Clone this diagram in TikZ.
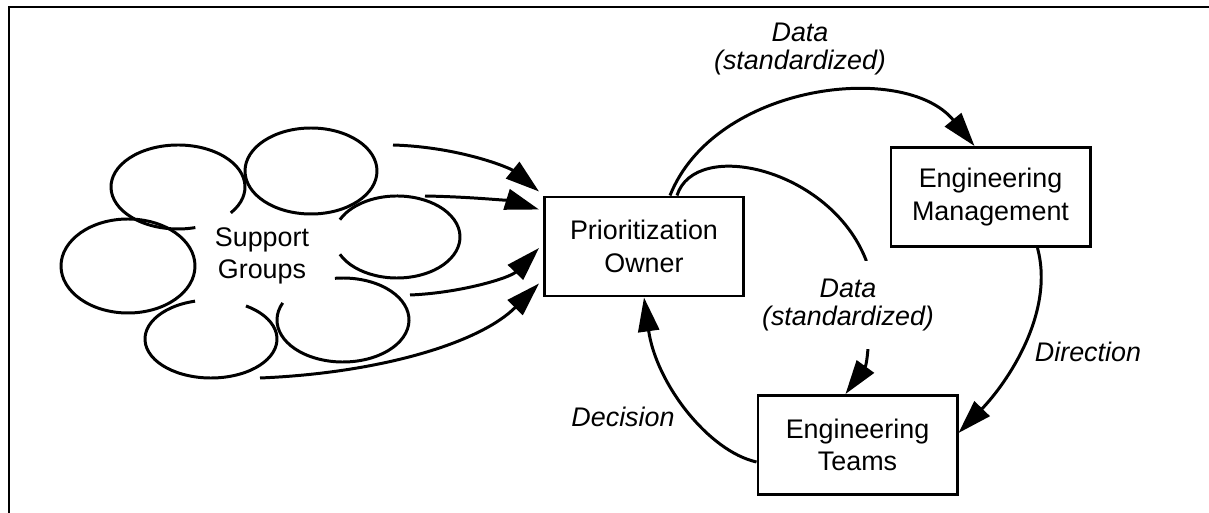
\documentclass[tikz,border=0pt]{standalone}
\usepackage{fontspec}
\setmainfont{Liberation Sans}
\usetikzlibrary{arrows.meta, calc}

\begin{document}
\begin{tikzpicture}[x=0.2mm, y=0.2mm, >={Triangle[length=6.8mm, width=4.2mm]},
  line width=1.7pt, font=\fontsize{15.3}{18.5}\selectfont,
  box/.style={draw, minimum width=39.8mm, minimum height=19.8mm, align=center, inner sep=0pt},
  lbl/.style={align=center, font=\fontsize{15.3}{16}\selectfont\itshape}]
  \useasboundingbox (0,0) rectangle (1209,513);

  % Frame
  \draw[line width=1.1pt] (9,0) -- (9,506) -- (1209,506);

  % Cloud of support groups (arcs left open towards the text)
  \foreach \cx/\cy/\rx/\ry/\a/\b in {178/326/67/42/-38/285, 311/342/66/43/0/360,
      397/276/63/41/-155/155, 128/247/67/47/0/360, 211/174/66/39/104/418, 343/193/66/42/156/457}
    \draw ({\cx+\rx*cos(\a)},{\cy+\ry*sin(\a)}) arc[start angle=\a, end angle=\b, x radius=\rx, y radius=\ry];
  \node[align=center] (sg) at (262,257) {Support\\Groups};

  % Boxes
  \node[box] (po) at (644,266.5) {Prioritization\\Owner};
  \node[box] (em) at (990.5,316) {Engineering\\Management};
  \node[box] (et) at (857.5,68) {Engineering\\Teams};

  % Inputs from the cloud
  \coordinate (s1) at (393,368);
  \coordinate (s2) at (425,317);
  \coordinate (s3) at (410,218);
  \coordinate (s4) at (260,135);
  \draw[->] (s1) .. controls (460,366) and (510,345) .. ($(po.north west)+(-4,4)$);
  \draw[->] (s2) .. controls (480,316) and (515,311) .. ($(po.west)+(-4,37)$);
  \draw[->] (s3) .. controls (460,220) and (510,235) .. ($(po.west)+(-4,-1.5)$);
  \draw[->] (s4) .. controls (380,140) and (480,170) .. ($(po.south west)+(-4,14)$);

  % Cycle between owner and engineering
  \draw[->] ($(po.north)+(26,0)$) .. controls (715,430) and (905,452) .. ($(em.north)+(-16,0)$);
  \node[lbl] (data1) at (800,464) {Data\\(standardized)};

  \draw[->] ($(po.north)+(33,0)$) .. controls (695,375) and (830,345) .. (866,253)
    .. controls (872,200) and (868,150) .. ($(et.north)+(-12,0)$);
  \node[lbl, fill=white, inner xsep=1pt, inner ysep=3.5mm] (data2) at (848,208) {Data\\(standardized)};

  \draw[->] ($(em.south)+(47,0)$) .. controls (1055,200) and (1007,130) .. ($(et.east)+(0,12)$);
  \node[lbl] (dir) at (1088,161) {Direction};

  \draw[->] ($(et.west)+(0,-17)$) .. controls (708,62) and (656,130) .. (po.south);
  \node[lbl] (dec) at (623,96) {Decision};
\end{tikzpicture}
\end{document}
